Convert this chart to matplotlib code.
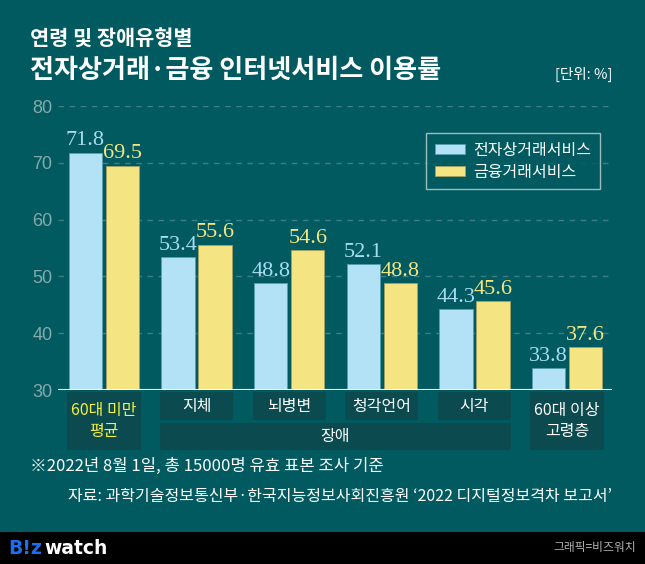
import matplotlib.pyplot as plt
import matplotlib.patches as mpatches
from matplotlib.transforms import blended_transform_factory
import numpy as np

plt.rcParams['font.family'] = ['Noto Sans CJK KR', 'DejaVu Sans']

# data
groups = ['60대 미만\n평균', '지체', '뇌병변', '청각언어', '시각', '60대 이상\n고령층']
ecommerce = [71.8, 53.4, 48.8, 52.1, 44.3, 33.8]
finance = [69.5, 55.6, 54.6, 48.8, 45.6, 37.6]
series_names = ['전자상거래서비스', '금융거래서비스']

bg = '#005a60'
blue = '#b3e2f6'
yellow = '#f4e482'
boxc = '#0b4a4f'

fig = plt.figure(figsize=(6.45, 5.64), dpi=100)
fig.patch.set_facecolor(bg)
ax = fig.add_axes([58/645, 1-390/564, 554/645, 284/564])
ax.set_facecolor(bg)

x = np.arange(len(groups))
w = 0.36
off = 0.2
b1 = ax.bar(x - off, [v - 30 for v in ecommerce], w, bottom=30, color=blue,
            edgecolor='#5a9fb0', linewidth=0.6, label=series_names[0], zorder=3)
b2 = ax.bar(x + off, [v - 30 for v in finance], w, bottom=30, color=yellow,
            edgecolor='#a8a060', linewidth=0.6, label=series_names[1], zorder=3)

for xi, v in zip(x, ecommerce):
    ax.text(xi - off, v + 0.4, f'{v:.1f}', ha='center', va='bottom', color='#a9dcf2',
            fontsize=16, family='Liberation Serif', clip_on=False, zorder=4)
for xi, v in zip(x, finance):
    ax.text(xi + off, v + 0.4, f'{v:.1f}', ha='center', va='bottom', color=yellow,
            fontsize=16, family='Liberation Serif', clip_on=False, zorder=4)

ax.set_xlim(-46/92.6, 508/92.6)
ax.set_ylim(30, 80)
ax.set_yticks([30, 40, 50, 60, 70, 80])
for y in [40, 50, 60, 70, 80]:
    ax.axhline(y, color='#3d7f84', lw=1, ls=(0, (4, 4)), zorder=1)
ax.axhline(30, color='white', lw=1.5, zorder=5)
for s in ax.spines.values():
    s.set_visible(False)
ax.set_xticks([])
ax.tick_params(axis='y', length=0, pad=4, labelsize=13, labelcolor='#86a9ab')
for lab in ax.get_yticklabels():
    lab.set_family('Liberation Sans')

leg = ax.legend(loc='upper right', bbox_to_anchor=((600-58)/554, (390-133)/284),
                borderaxespad=0, fontsize=11.5, frameon=True, facecolor=bg,
                edgecolor='#c6d6d6', labelcolor='white', handlelength=1.9,
                handleheight=0.6, handletextpad=0.5, borderpad=0.55,
                labelspacing=0.3, fancybox=False)
leg.get_frame().set_linewidth(1)

# category label boxes
tr = blended_transform_factory(ax.transData, fig.transFigure)
hw = 0.395
top = 1 - 392/564
mid = 1 - 420/564
mid2 = 1 - 423/564
bot = 1 - 450/564
for i, g in enumerate(groups):
    if i in (0, 5):
        ax.add_patch(mpatches.Rectangle((i - hw, bot), 2*hw, top - bot, transform=tr,
                                        facecolor=boxc, clip_on=False, zorder=2))
        ax.text(i, (top + bot)/2, g, transform=tr, ha='center', va='center',
                color='#f6f23c' if i == 0 else 'white', fontsize=11.5,
                linespacing=1.35, fontweight='medium')
    else:
        ax.add_patch(mpatches.Rectangle((i - hw, mid), 2*hw, top - mid, transform=tr,
                                        facecolor=boxc, clip_on=False, zorder=2))
        ax.text(i, (top + mid)/2, g, transform=tr, ha='center', va='center',
                color='white', fontsize=11.5, fontweight='medium')
ax.add_patch(mpatches.Rectangle((1 - hw, bot), 3 + 2*hw, mid2 - bot, transform=tr,
                                facecolor=boxc, clip_on=False, zorder=2))
ax.text(2.5, (mid2 + bot)/2, '장애', transform=tr, ha='center', va='center',
        color='white', fontsize=11.5, fontweight='medium')

# titles
fig.text(30/645, 1-38/564, '연령 및 장애유형별', color='white', fontsize=15,
         fontweight='bold', va='center', ha='left')
fig.text(30/645, 1-70/564, '전자상거래·금융 인터넷서비스 이용률', color='white',
         fontsize=18.8, fontweight='bold', va='center', ha='left')
fig.text(612/645, 1-74/564, '[단위: %]', color='white', fontsize=10.5,
         va='center', ha='right')

fig.text(30/645, 1-466/564, '※2022년 8월 1일, 총 15000명 유효 표본 조사 기준',
         color='white', fontsize=12, va='center', ha='left')
fig.text(612/645, 1-496/564,
         '자료: 과학기술정보통신부·한국지능정보사회진흥원 \u20182022 디지털정보격차 보고서\u2019',
         color='white', fontsize=11.5, va='center', ha='right')

# bottom band
fig.add_artist(mpatches.Rectangle((0, 0), 1, 32/564, transform=fig.transFigure,
                                  facecolor='black', zorder=0))
fig.text(8/645, 16/564, 'B!z', color='#1b6ef2', fontsize=13.5, fontweight='bold',
         family='DejaVu Sans', va='center', ha='left')
fig.text(44/645, 16/564, 'watch', color='white', fontsize=13.5, fontweight='bold',
         family='DejaVu Sans', va='center', ha='left')
fig.text(636/645, 16/564, '그래픽=비즈워치', color='#b0b0b0', fontsize=8.5,
         va='center', ha='right')

fig.savefig('out.png', dpi=100, facecolor=bg)
